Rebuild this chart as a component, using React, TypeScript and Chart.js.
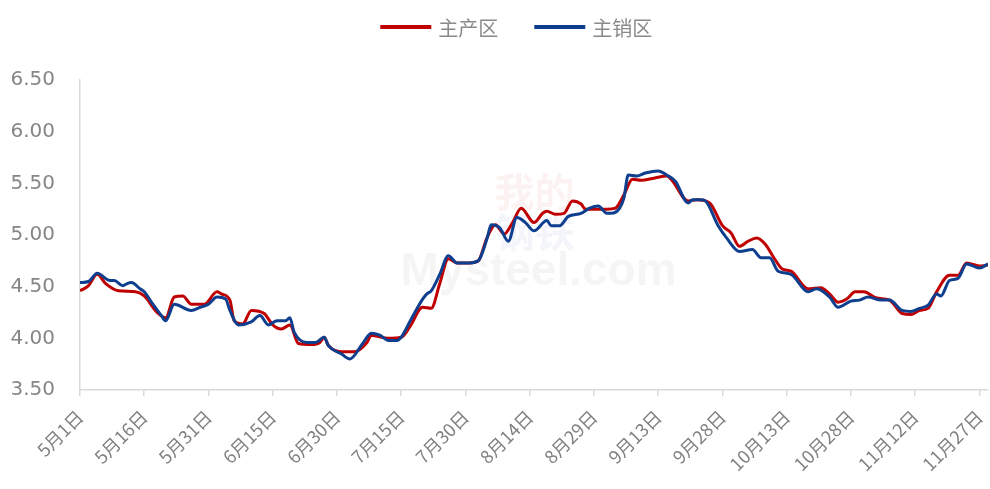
import React, { useEffect, useRef } from "react";
import { Chart, registerables } from "chart.js";

Chart.register(...registerables);

// day offset from 5月1日, value
const tickDays = [0, 15, 30, 45, 60, 75, 90, 105, 120, 135, 150, 165, 180, 195, 210];
const tickLabels = [
  "5月1日", "5月16日", "5月31日", "6月15日", "6月30日", "7月15日", "7月30日", "8月14日",
  "8月29日", "9月13日", "9月28日", "10月13日", "10月28日", "11月12日", "11月27日",
];
const lastDay = 212;

const redDays = [
  0, 2, 4, 6, 9, 13, 15, 18, 20, 22, 24, 26, 29, 32, 33, 35, 36, 38, 40, 43, 45, 47, 49, 51,
  54, 56, 57, 58, 61, 64, 67, 68, 72, 75, 77, 80, 82, 84, 86, 88, 91, 93, 95, 97, 99, 101,
  103, 106, 108, 109, 111, 113, 115, 117, 118, 123, 125, 127, 129, 131, 134, 137, 138, 142,
  144, 147, 150, 152, 154, 156, 158, 160, 162, 164, 166, 170, 173, 175, 177, 179, 181, 183,
  186, 189, 192, 194, 196, 198, 200, 203, 205, 207, 210, 212,
];
const redValues = [
  4.46, 4.51, 4.62, 4.53, 4.46, 4.45, 4.41, 4.25, 4.20, 4.40, 4.41, 4.33, 4.33, 4.45, 4.43,
  4.37, 4.17, 4.14, 4.27, 4.24, 4.13, 4.09, 4.13, 3.95, 3.94, 3.96, 4.01, 3.93, 3.87, 3.87,
  3.96, 4.03, 4.00, 4.01, 4.11, 4.30, 4.29, 4.53, 4.77, 4.73, 4.73, 4.75, 4.97, 5.10, 5.01,
  5.12, 5.26, 5.12, 5.21, 5.23, 5.20, 5.21, 5.33, 5.30, 5.25, 5.25, 5.26, 5.39, 5.54, 5.53,
  5.55, 5.57, 5.54, 5.33, 5.34, 5.31, 5.09, 5.02, 4.89, 4.94, 4.97, 4.91, 4.78, 4.67, 4.65,
  4.48, 4.49, 4.43, 4.35, 4.38, 4.45, 4.45, 4.39, 4.37, 4.24, 4.23, 4.27, 4.29, 4.45, 4.61,
  4.61, 4.73, 4.70, 4.71,
];

const blueDays = [
  0, 2, 4, 7, 8, 10, 11, 12, 14, 15, 17, 19, 20, 22, 26, 28, 30, 32, 34, 35, 37, 40, 42, 44,
  46, 48, 49, 50, 53, 55, 57, 58, 61, 63, 66, 68, 70, 72, 74, 75, 76, 77, 80, 81, 82, 84, 86,
  88, 91, 93, 95, 96, 98, 100, 102, 104, 106, 109, 110, 112, 114, 117, 119, 121, 123, 124,
  126, 127, 128, 130, 132, 135, 137, 139, 142, 143, 145, 146, 149, 151, 154, 157, 159, 161,
  163, 166, 170, 172, 175, 177, 180, 182, 184, 187, 189, 192, 194, 196, 198, 200, 201, 203,
  205, 207, 210, 212,
];
const blueValues = [
  4.54, 4.55, 4.63, 4.56, 4.56, 4.51, 4.53, 4.54, 4.48, 4.45, 4.33, 4.22, 4.17, 4.33, 4.27,
  4.30, 4.33, 4.40, 4.38, 4.27, 4.13, 4.16, 4.22, 4.13, 4.17, 4.17, 4.20, 4.06, 3.96, 3.96,
  4.01, 3.93, 3.85, 3.80, 3.95, 4.05, 4.03, 3.98, 3.98, 4.01, 4.08, 4.16, 4.38, 4.43, 4.46,
  4.62, 4.80, 4.73, 4.73, 4.75, 4.96, 5.10, 5.07, 4.94, 5.17, 5.12, 5.04, 5.14, 5.09, 5.09,
  5.18, 5.21, 5.26, 5.28, 5.21, 5.21, 5.26, 5.36, 5.58, 5.57, 5.60, 5.62, 5.58, 5.52, 5.31,
  5.34, 5.34, 5.33, 5.09, 4.97, 4.84, 4.86, 4.78, 4.78, 4.65, 4.62, 4.45, 4.48, 4.40, 4.30,
  4.36, 4.37, 4.40, 4.37, 4.37, 4.27, 4.26, 4.29, 4.32, 4.43, 4.41, 4.56, 4.58, 4.72, 4.68,
  4.72,
];

const seriesNames = ["主产区", "主销区"];
const seriesColors = ["#C00000", "#0E3F8F"];
const yTicks = [3.5, 4.0, 4.5, 5.0, 5.5, 6.0, 6.5];

const toPoints = (days: number[], vals: number[]) => days.map((d, i) => ({ x: d, y: vals[i] }));

// legend drawn at the top, centered, with long line samples
const topLegend = {
  id: "topLegend",
  afterDraw(chart: any) {
    const { ctx } = chart;
    const lineW = 51;
    const lineGap = 7;
    const itemGap = 36;
    const y = 27;
    ctx.save();
    ctx.font = "20px 'Noto Sans CJK SC', sans-serif";
    const items = chart.data.datasets.map((ds: any) => ({
      label: ds.label,
      color: ds.borderColor,
      w: lineW + lineGap + ctx.measureText(ds.label).width,
    }));
    const total = items.reduce((s: number, it: any) => s + it.w, 0) + itemGap * (items.length - 1);
    let x = chart.width * 0.5215 - total / 2;
    ctx.textBaseline = "middle";
    ctx.textAlign = "left";
    for (const it of items) {
      ctx.fillStyle = it.color;
      ctx.fillRect(x, y - 2, lineW, 4);
      ctx.fillStyle = "#8a8a8a";
      ctx.fillText(it.label, x + lineW + lineGap, y + 1);
      x += it.w + itemGap;
    }
    ctx.restore();
  },
};

const watermark = {
  id: "watermark",
  beforeDatasetsDraw(chart: any) {
    const { ctx, chartArea } = chart;
    const cx = chartArea.left + (chartArea.right - chartArea.left) * 0.505;
    ctx.save();
    ctx.font = "bold 46px 'Liberation Sans', sans-serif";
    ctx.fillStyle = "rgba(0,0,0,0.04)";
    ctx.textAlign = "center";
    ctx.textBaseline = "alphabetic";
    ctx.fillText("Mysteel.com", cx, chartArea.top + 205);
    ctx.font = "bold 40px 'Noto Sans CJK SC', sans-serif";
    ctx.fillStyle = "rgba(200,0,0,0.05)";
    ctx.fillText("我的", cx - 4, chartArea.top + 127);
    ctx.fillStyle = "rgba(20,60,150,0.05)";
    ctx.fillText("钢铁", cx - 4, chartArea.top + 167);
    ctx.restore();
  },
};

export default function App() {
  const ref = useRef<HTMLCanvasElement>(null);
  useEffect(() => {
    if (!ref.current) return;
    const chart = new Chart(ref.current, {
      type: "line",
      data: {
        datasets: [
          {
            label: seriesNames[0],
            data: toPoints(redDays, redValues),
            borderColor: seriesColors[0],
            backgroundColor: seriesColors[0],
            borderWidth: 3,
            pointRadius: 0,
            cubicInterpolationMode: "monotone",
            order: 2,
          },
          {
            label: seriesNames[1],
            data: toPoints(blueDays, blueValues),
            borderColor: seriesColors[1],
            backgroundColor: seriesColors[1],
            borderWidth: 3,
            pointRadius: 0,
            cubicInterpolationMode: "monotone",
            order: 1,
          },
        ],
      },
      options: {
        animation: false,
        responsive: false,
        layout: { padding: { top: 80, left: 0, right: 2, bottom: 0 } },
        plugins: {
          legend: { display: false },
          tooltip: { enabled: false },
        },
        scales: {
          x: {
            type: "linear",
            min: 0,
            max: lastDay,
            afterBuildTicks: (scale: any) => {
              scale.ticks = tickDays.map((v) => ({ value: v }));
            },
            afterFit: (scale: any) => {
              scale.height = 99;
              scale.paddingRight = 0;
              scale.paddingLeft = 0;
            },
            ticks: {
              autoSkip: false,
              maxRotation: 45,
              minRotation: 45,
              padding: 10,
              color: "#808080",
              font: { size: 18, family: "'Noto Sans CJK SC', sans-serif" },
              callback: (v: any) => {
                const i = tickDays.indexOf(Number(v));
                return i >= 0 ? tickLabels[i] : null;
              },
            },
            grid: {
              display: true,
              drawOnChartArea: false,
              drawTicks: true,
              tickLength: 6,
              color: "#d9d9d9",
              lineWidth: 1.5,
            },
            border: { display: true, color: "#d9d9d9", width: 1.5 },
          },
          y: {
            type: "linear",
            min: 3.5,
            max: 6.5,
            afterBuildTicks: (scale: any) => {
              scale.ticks = yTicks.map((v) => ({ value: v }));
            },
            afterFit: (scale: any) => {
              scale.width = 80;
            },
            ticks: {
              padding: 17,
              color: "#868686",
              font: { size: 20, family: "'DejaVu Sans', sans-serif" },
              callback: (v: any) => Number(v).toFixed(2),
            },
            grid: { display: false },
            border: { display: true, color: "#d9d9d9", width: 1.5 },
          },
        },
      },
      plugins: [topLegend, watermark],
    });
    return () => chart.destroy();
  }, []);
  return (
    <div style={{ position: "absolute", left: 0, top: 0, width: 990, height: 489 }}>
      <canvas ref={ref} width={990} height={489} style={{ display: "block" }} />
    </div>
  );
}
